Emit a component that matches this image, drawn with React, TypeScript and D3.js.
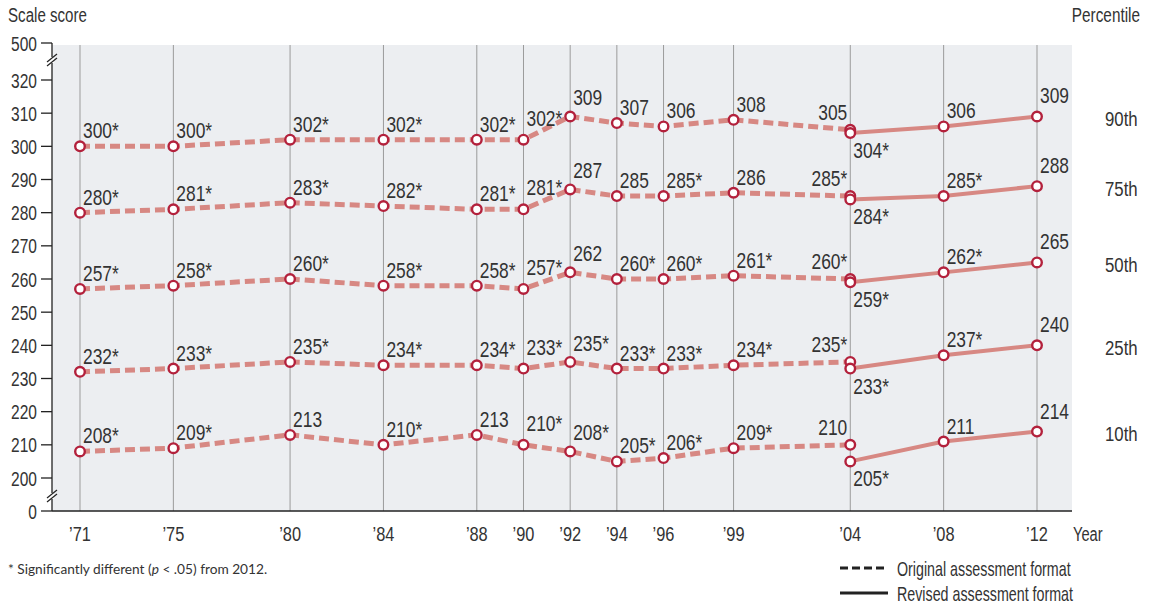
import React from "react";
import * as d3 from "d3";

const originalYears = [1971, 1975, 1980, 1984, 1988, 1990, 1992, 1994, 1996, 1999, 2004];
const revisedYears = [2004, 2008, 2012];
const axisYears = [1971, 1975, 1980, 1984, 1988, 1990, 1992, 1994, 1996, 1999, 2004, 2008, 2012];
const yearLabels = ["’71", "’75", "’80", "’84", "’88", "’90", "’92", "’94", "’96", "’99", "’04", "’08", "’12"];
const yTicks = [0, 200, 210, 220, 230, 240, 250, 260, 270, 280, 290, 300, 310, 320, 500];
const percentiles = ["90th", "75th", "50th", "25th", "10th"];

const p90Original = [300, 300, 302, 302, 302, 302, 309, 307, 306, 308, 305];
const p90OriginalSig = [1, 1, 1, 1, 1, 1, 0, 0, 0, 0, 0];
const p90Revised = [304, 306, 309];
const p90RevisedSig = [1, 0, 0];

const p75Original = [280, 281, 283, 282, 281, 281, 287, 285, 285, 286, 285];
const p75OriginalSig = [1, 1, 1, 1, 1, 1, 0, 0, 1, 0, 1];
const p75Revised = [284, 285, 288];
const p75RevisedSig = [1, 1, 0];

const p50Original = [257, 258, 260, 258, 258, 257, 262, 260, 260, 261, 260];
const p50OriginalSig = [1, 1, 1, 1, 1, 1, 0, 1, 1, 1, 1];
const p50Revised = [259, 262, 265];
const p50RevisedSig = [1, 1, 0];

const p25Original = [232, 233, 235, 234, 234, 233, 235, 233, 233, 234, 235];
const p25OriginalSig = [1, 1, 1, 1, 1, 1, 1, 1, 1, 1, 1];
const p25Revised = [233, 237, 240];
const p25RevisedSig = [1, 1, 0];

const p10Original = [208, 209, 213, 210, 213, 210, 208, 205, 206, 209, 210];
const p10OriginalSig = [1, 1, 0, 1, 0, 1, 1, 1, 1, 1, 0];
const p10Revised = [205, 211, 214];
const p10RevisedSig = [1, 0, 0];

const seriesOriginal = [p90Original, p75Original, p50Original, p25Original, p10Original];
const seriesOriginalSig = [p90OriginalSig, p75OriginalSig, p50OriginalSig, p25OriginalSig, p10OriginalSig];
const seriesRevised = [p90Revised, p75Revised, p50Revised, p25Revised, p10Revised];
const seriesRevisedSig = [p90RevisedSig, p75RevisedSig, p50RevisedSig, p25RevisedSig, p10RevisedSig];

const FONT = "'Liberation Sans', Arial, sans-serif";
const TEXT = "#333333";
const LINE = "#d78883";
const MARK = "#b3213c";

const plotLeft = 52;
const plotRight = 1072;
const plotTop = 45;
const plotBottom = 511;

function T(props: {
  x: number;
  y: number;
  anchor?: string;
  size?: number;
  sx?: number;
  dy?: string;
  children: any;
}) {
  const { x, y, anchor = "start", size = 21, sx = 0.74, dy, children } = props;
  return (
    <text
      transform={`translate(${x},${y}) scale(${sx},1)`}
      dy={dy}
      textAnchor={anchor as any}
      fontSize={size}
      fill={TEXT}
      fontFamily={FONT}
    >
      {children}
    </text>
  );
}

export default function App() {
  const x = d3.scaleLinear().domain([1971, 2012]).range([80, 1037]);
  const y = d3.scaleLinear().domain([0, 200, 320, 500]).range([511, 478, 80, 43]);

  const line = d3
    .line<[number, number]>()
    .x((d) => x(d[0]))
    .y((d) => y(d[1]));

  const labelPos = (year: number, revised: boolean) => {
    if (revised && year === 2004) return { dx: 3, dy: 25, anchor: "start" };
    if (!revised && year === 2004) return { dx: -3, dy: -10, anchor: "end" };
    if (year === 1990) return { dx: 3, dy: -14, anchor: "start" };
    if (year === 1992) return { dx: 3, dy: -11, anchor: "start" };
    if (year === 2012) return { dx: 3, dy: -13, anchor: "start" };
    return { dx: 3, dy: -8, anchor: "start" };
  };

  const renderSeries = (vals: number[], yrs: number[], revised: boolean, key: string) => {
    const pts = yrs.map((yr, i) => [yr, vals[i]] as [number, number]);
    return (
      <path
        key={key}
        d={line(pts) || ""}
        fill="none"
        stroke={LINE}
        strokeWidth={revised ? 4 : 5}
        strokeDasharray={revised ? undefined : "10,5"}
      />
    );
  };

  const renderMarks = (vals: number[], sig: number[], yrs: number[], revised: boolean, key: string) => (
    <g key={key}>
      {yrs.map((yr, i) => {
        const p = labelPos(yr, revised);
        return (
          <g key={yr}>
            <circle cx={x(yr)} cy={y(vals[i])} r={4.8} fill="#fff" stroke={MARK} strokeWidth={2.4} />
            <T x={x(yr) + p.dx} y={y(vals[i]) + p.dy} anchor={p.anchor} size={22} sx={0.79}>
              {vals[i]}
              {sig[i] ? "*" : ""}
            </T>
          </g>
        );
      })}
    </g>
  );

  const breakMark = (cy: number) => (
    <g>
      <rect x={plotLeft - 2} y={cy - 3} width={4} height={6} fill="#fff" />
      <line x1={plotLeft - 5} y1={cy + 2} x2={plotLeft + 5} y2={cy - 6} stroke="#222" strokeWidth={1.2} />
      <line x1={plotLeft - 5} y1={cy + 6} x2={plotLeft + 5} y2={cy - 2} stroke="#222" strokeWidth={1.2} />
    </g>
  );

  return (
    <svg width={1159} height={607} style={{ position: "absolute", left: 0, top: 0, background: "#fff" }}>
      <rect x={plotLeft} y={plotTop} width={plotRight - plotLeft} height={plotBottom - plotTop} fill="#eceef1" />
      {axisYears.map((yr) => (
        <line key={yr} x1={x(yr)} x2={x(yr)} y1={plotTop} y2={plotBottom} stroke="#9b9b9b" strokeWidth={1} />
      ))}

      <line x1={plotLeft} x2={plotLeft} y1={y(500)} y2={plotBottom} stroke="#222" strokeWidth={1.3} />
      <line x1={plotLeft} x2={plotRight} y1={plotBottom} y2={plotBottom} stroke="#222" strokeWidth={1.3} />
      {breakMark(60)}
      {breakMark(496)}
      {yTicks.map((t) => (
        <g key={t}>
          <line x1={plotLeft - 11} x2={plotLeft} y1={y(t)} y2={y(t)} stroke="#222" strokeWidth={1.3} />
          <T x={plotLeft - 15} y={y(t)} dy="0.36em" anchor="end">
            {t}
          </T>
        </g>
      ))}
      {axisYears.map((yr, i) => (
        <T key={yr} x={x(yr)} y={541} anchor="middle" sx={0.78}>
          {yearLabels[i]}
        </T>
      ))}
      <T x={1073} y={541} sx={0.7}>
        Year
      </T>
      <T x={8} y={22} sx={0.72}>
        Scale score
      </T>
      <T x={1140} y={22} anchor="end" sx={0.73}>
        Percentile
      </T>

      {seriesOriginal.map((s, k) => renderSeries(s, originalYears, false, "o" + k))}
      {seriesRevised.map((s, k) => renderSeries(s, revisedYears, true, "r" + k))}
      {seriesOriginal.map((s, k) => renderMarks(s, seriesOriginalSig[k], originalYears, false, "om" + k))}
      {seriesRevised.map((s, k) => renderMarks(s, seriesRevisedSig[k], revisedYears, true, "rm" + k))}

      {percentiles.map((p, k) => (
        <T key={p} x={1105} y={y(seriesRevised[k][2]) + 2} dy="0.36em" sx={0.8}>
          {p}
        </T>
      ))}

      <text x={8} y={574} fontSize={13.7} fill={TEXT} fontFamily="Lato, 'Open Sans', sans-serif">
        * Significantly different (<tspan fontStyle="italic">p</tspan> &lt; .05) from 2012.
      </text>

      <line x1={840} x2={888} y1={568} y2={568} stroke="#222" strokeWidth={3} strokeDasharray="8,4" />
      <T x={897} y={568} dy="0.36em" sx={0.68}>
        Original assessment format
      </T>
      <line x1={840} x2={888} y1={593} y2={593} stroke="#222" strokeWidth={3} />
      <T x={897} y={593} dy="0.36em" sx={0.68}>
        Revised assessment format
      </T>
    </svg>
  );
}
